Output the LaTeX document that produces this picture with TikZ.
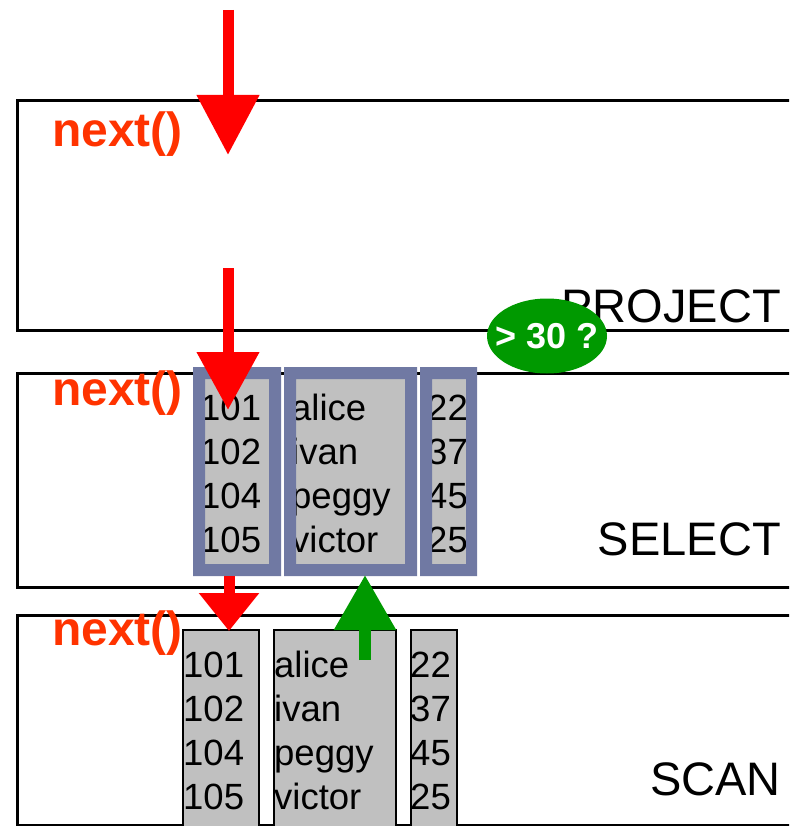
\documentclass[tikz,border=0pt]{standalone}
\usepackage{fontspec}
\setmainfont{Liberation Sans}
\usetikzlibrary{arrows.meta,shapes.geometric}
\definecolor{nextred}{HTML}{FF3300}
\definecolor{arrred}{HTML}{FF0000}
\definecolor{okgreen}{HTML}{009900}
\definecolor{colgrey}{HTML}{C0C0C0}
\definecolor{colframe}{HTML}{7079A3}
\begin{document}
\begin{tikzpicture}[x=1pt,y=-1pt,
  opbox/.style={draw=black, line width=3pt},
  nextlbl/.style={anchor=base west, inner sep=0pt, text=nextred, font=\fontsize{48}{48}\selectfont\bfseries},
  oplbl/.style={anchor=base east, inner sep=0pt, font=\fontsize{47}{47}\selectfont},
  cell/.style={anchor=base west, inner sep=0pt, font=\fontsize{36.5}{36.5}\selectfont},
  scancol/.style={fill=colgrey, draw=black, line width=1.5pt},
  flowarrow/.style={draw=arrred, line width=11pt},
  uparrow/.style={draw=okgreen, line width=12pt}
]
\useasboundingbox (0,0) rectangle (789,826);
\clip (0,0) rectangle (789,826);
\fill[white] (0,0) rectangle (789,826);

% operator boxes
\draw[opbox] (17,101) rectangle (830,330);
\draw[opbox] (17,373) rectangle (830,587);
\draw[opbox] (17,615) rectangle (830,825);

% labels
\node[nextlbl] (n1) at (52,147) {next()};
\node[nextlbl] (n2) at (52,405) {next()};
\node[nextlbl] (n3) at (52,645) {next()};
\node[oplbl] (proj) at (781,322) {PROJECT};
\node[oplbl] (sel) at (781,555) {SELECT};
\node[oplbl] (scan) at (781,795) {SCAN};

% scan columns
\draw[scancol] (183,630) rectangle (259,840);
\draw[scancol] (274,630) rectangle (396,840);
\draw[scancol] (411,630) rectangle (457,840);

% select columns (fill)
\fill[colgrey] (193,367) rectangle (281,576);
\fill[colgrey] (284,367) rectangle (417,576);
\fill[colgrey] (420,367) rectangle (477,576);

\foreach \id/\nm/\ag [count=\i from 0] in {101/alice/22, 102/ivan/37, 104/peggy/45, 105/victor/25} {
  \node[cell] (scid\i) at (183,{677+44.3*\i}) {\id};
  \node[cell] (scnm\i) at (274,{677+44.3*\i}) {\nm};
  \node[cell] (scag\i) at (410,{677+44.3*\i}) {\ag};
  \node[cell] (seid\i) at (200,{420+44.3*\i}) {\id};
  \node[cell] (senm\i) at (291,{420+44.3*\i}) {\nm};
  \node[cell] (seag\i) at (427,{420+44.3*\i}) {\ag};
}

% select column frames
\fill[colframe, even odd rule] (193,367) rectangle (281,576) (205,379) rectangle (269,564);
\fill[colframe, even odd rule] (284,367) rectangle (417,576) (296,379) rectangle (405,564);
\fill[colframe, even odd rule] (420,367) rectangle (477,576) (432,379) rectangle (466,564);

% arrows
\coordinate (a1s) at (228,10);
\coordinate (a1e) at (228,155);
\coordinate (a2s) at (228,268);
\coordinate (a2e) at (228,410);
\coordinate (a3s) at (229,576);
\coordinate (a3e) at (229,631);
\coordinate (gs) at (365,660);
\coordinate (ge) at (365,575);
\draw[flowarrow, -{Triangle[width=60pt,length=60pt]}] (a1s) -- (a1e);
\draw[flowarrow, -{Triangle[width=60pt,length=58pt]}] (a2s) -- (a2e);
\draw[flowarrow, -{Triangle[width=58pt,length=38pt]}] (a3s) -- (a3e);
\draw[uparrow, -{Triangle[width=59pt,length=55pt]}] (gs) -- (ge);

% condition
\node[ellipse, fill=okgreen, minimum width=120pt, minimum height=75pt, inner sep=0pt,
  text=white, font=\fontsize{36}{36}\selectfont\bfseries] (cond) at (547,336) {\makebox[0pt]{> 30 ?}};
\end{tikzpicture}
\end{document}
